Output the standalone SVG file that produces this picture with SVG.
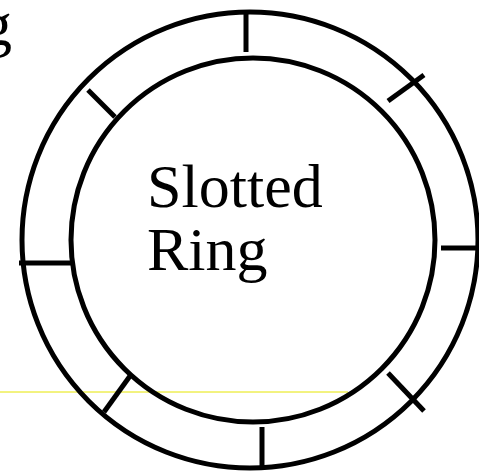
<svg xmlns="http://www.w3.org/2000/svg" width="479" height="471" viewBox="0 0 479 471">
<style>
.ring{fill:none;stroke:#000;stroke-width:5}
.tick{stroke:#000;stroke-width:5;stroke-linecap:butt}
.lbl{font-family:"Liberation Serif",serif;font-size:62px;fill:#000}
</style>
<rect width="479" height="471" fill="#fff"/>
<line x1="0" y1="392" x2="348" y2="392" stroke="#e6e600" stroke-width="1"/>
<g id="outer-ring"><circle class="ring" cx="250" cy="240" r="228"/></g>
<g id="inner-ring"><circle class="ring" cx="253" cy="240" r="182"/></g>
<g id="slots">
<line class="tick" x1="246" y1="11" x2="246" y2="52"/>
<line class="tick" x1="262" y1="427" x2="262" y2="468"/>
<line class="tick" x1="19" y1="263" x2="72" y2="263"/>
<line class="tick" x1="441" y1="248" x2="479" y2="248"/>
<line class="tick" x1="88" y1="90" x2="115" y2="117"/>
<line class="tick" x1="388" y1="101" x2="424" y2="75"/>
<line class="tick" x1="388" y1="373" x2="424" y2="411"/>
<line class="tick" x1="130" y1="376" x2="104" y2="412"/>
</g>
<g id="label">
<text class="lbl" x="147" y="207">Slotted</text>
<text class="lbl" x="147" y="270">Ring</text>
</g>
<text class="lbl" x="-19" y="45">g</text>
</svg>
